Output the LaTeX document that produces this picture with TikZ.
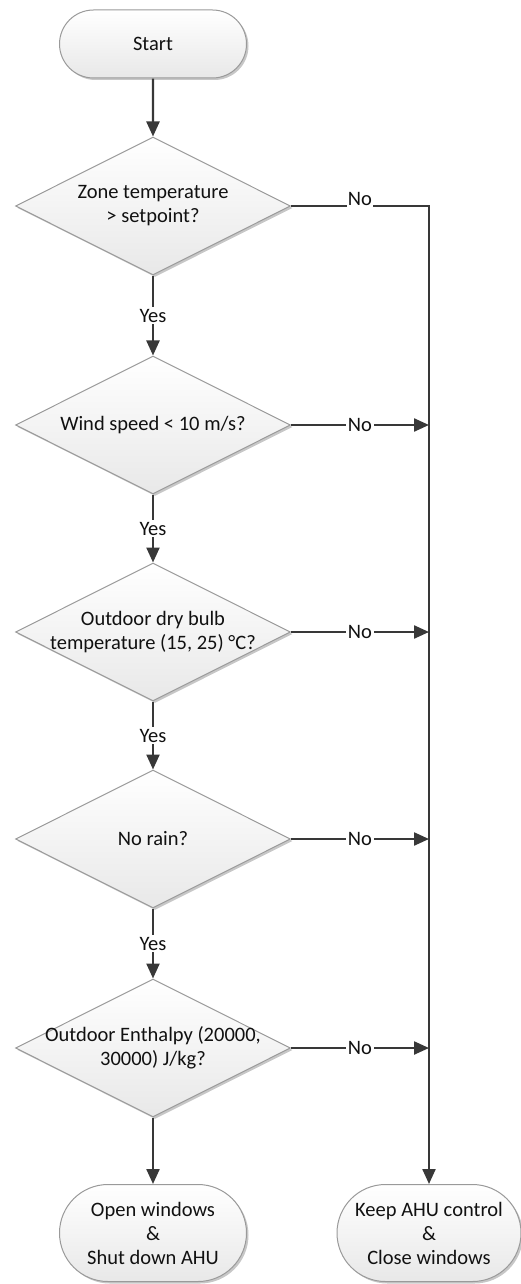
\documentclass[tikz,border=0pt]{standalone}
\usepackage{fontspec}
\setmainfont{Carlito}
\usetikzlibrary{shapes.geometric,shapes.misc,arrows.meta,shadows}
\definecolor{lineclr}{HTML}{383838}
\definecolor{bordclr}{HTML}{9A9A9A}
\definecolor{txtclr}{HTML}{111111}
\begin{document}
\begin{tikzpicture}[x=1pt,y=-1pt,
  font=\fontsize{20.5}{24}\selectfont, text=txtclr,
  shp/.style={draw=bordclr, line width=1pt, top color=white, bottom color=black!9,
    drop shadow={shadow xshift=2pt, shadow yshift=-2pt, opacity=0.22, fill=black}},
  dia/.style={shp, diamond, minimum width=275pt, minimum height=138pt, inner sep=0pt, aspect=2},
  term/.style={shp, rounded rectangle, minimum width=187pt, inner sep=0pt, align=center},
  txt/.style={align=center, inner sep=0pt},
  conn/.style={draw=lineclr, line width=2.3pt},
  arr/.style={conn, -{Triangle[length=15pt,width=13pt]}},
  lbl/.style={fill=white, inner sep=1.5pt, text=txtclr}]
\useasboundingbox (0,0) rectangle (521,1284);

\node[term, minimum height=68pt] (start) at (153,44) {Start};

\node[dia] (d1) at (153,206) {};
\node[txt] (t1) at (d1.center) {Zone temperature\\> setpoint?};
\node[dia] (d2) at (153,425) {};
\node[txt] (t2) at (d2.center) {Wind speed < 10 m/s?};
\node[dia] (d3) at (153,632) {};
\node[txt] (t3) at (d3.center) {Outdoor dry bulb\\temperature (15, 25) °C?};
\node[dia] (d4) at (153,839) {};
\node[txt] (t4) at (d4.center) {No rain?};
\node[dia] (d5) at (153,1048) {};
\node[txt] (t5) at (d5.center) {Outdoor Enthalpy (20000,\\30000) J/kg?};

\node[term, minimum height=97pt] (open) at (153,1233) {Open windows\\\&\\Shut down AHU};
\node[term, minimum height=97pt, minimum width=184pt] (keep) at (429,1233) {Keep AHU control\\\&\\Close windows};

\coordinate (r1) at (429,206);
\coordinate (r2) at (429,425);
\coordinate (r3) at (429,632);
\coordinate (r4) at (429,839);
\coordinate (r5) at (429,1048);

\draw[arr] (start) -- (d1);
\draw[arr] (d1) -- node[lbl] (y1) {Yes} (d2);
\draw[arr] (d2) -- node[lbl] (y2) {Yes} (d3);
\draw[arr] (d3) -- node[lbl] (y3) {Yes} (d4);
\draw[arr] (d4) -- node[lbl] (y4) {Yes} (d5);
\draw[arr] (d5) -- (open);

\draw[arr] (d1.east) -- (r1) -- (keep.north);
\node[lbl, anchor=south, inner sep=1pt] (n1) at (360,207) {No};
\draw[arr] (d2.east) -- node[lbl, pos=0.5] (n2) {No} (r2);
\draw[arr] (d3.east) -- node[lbl, pos=0.5] (n3) {No} (r3);
\draw[arr] (d4.east) -- node[lbl, pos=0.5] (n4) {No} (r4);
\draw[arr] (d5.east) -- node[lbl, pos=0.5] (n5) {No} (r5);
\end{tikzpicture}
\end{document}
